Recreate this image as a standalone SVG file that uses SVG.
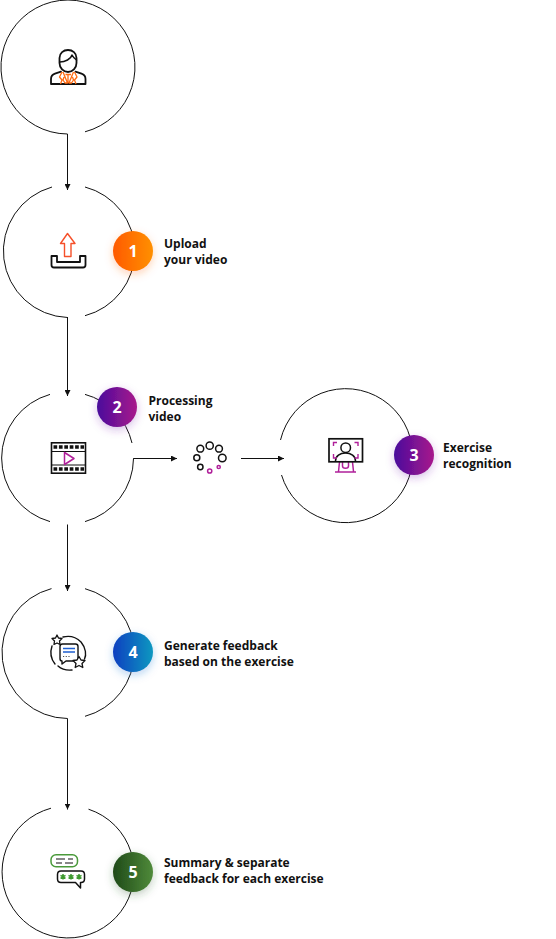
<svg xmlns="http://www.w3.org/2000/svg" width="556" height="939" viewBox="0 0 556 939">
<defs>
<linearGradient id="g1"><stop offset="0" stop-color="#ff5a00"/><stop offset="1" stop-color="#ff9000"/></linearGradient>
<linearGradient id="g2"><stop offset="0" stop-color="#4a0a9c"/><stop offset="1" stop-color="#a81a8c"/></linearGradient>
<linearGradient id="g4"><stop offset="0" stop-color="#0a3fc0"/><stop offset="1" stop-color="#0a98c0"/></linearGradient>
<linearGradient id="g5"><stop offset="0" stop-color="#1f4a18"/><stop offset="1" stop-color="#4f8a3a"/></linearGradient>
<filter id="sh1" x="-40%" y="-40%" width="180%" height="180%"><feDropShadow dx="0" dy="3" stdDeviation="4" flood-color="#ff6a20" flood-opacity=".3"/></filter>
<filter id="sh2" x="-40%" y="-40%" width="180%" height="180%"><feDropShadow dx="0" dy="3" stdDeviation="4" flood-color="#7a30b0" flood-opacity=".3"/></filter>
<filter id="sh4" x="-40%" y="-40%" width="180%" height="180%"><feDropShadow dx="0" dy="3" stdDeviation="4" flood-color="#2070d0" flood-opacity=".3"/></filter>
<filter id="sh5" x="-40%" y="-40%" width="180%" height="180%"><feDropShadow dx="0" dy="3" stdDeviation="4" flood-color="#305a28" flood-opacity=".3"/></filter>
<marker id="ah" markerWidth="7" markerHeight="6" refX="6" refY="3" orient="auto" markerUnits="userSpaceOnUse"><path d="M0 0L6 3L0 6z" fill="#111"/></marker>
</defs>
<style>
.ring{fill:none;stroke:#111;stroke-width:1}
.con{fill:none;stroke:#111;stroke-width:1;marker-end:url(#ah)}
.k{fill:none;stroke:#111;stroke-width:1.800;stroke-linejoin:round;stroke-linecap:round}
.num{font:700 16px "Open Sans","Noto Sans",sans-serif;fill:#fff;text-anchor:middle}
.lab{font:700 12px "Open Sans","Noto Sans",sans-serif;fill:#111}
</style>
<rect width="556" height="939" fill="#fff"/>
<g id="connectors">
<path class="con" d="M67.500 134V190"/>
<path class="con" d="M67.500 317V396"/>
<path class="con" d="M133.500 459V458.500H177"/>
<path class="con" d="M241 458.500H284"/>
<path class="con" d="M67.500 524.500V591"/>
<path class="con" d="M67.500 718.500V809.500"/>
</g>
<g id="node-user">
<path class="ring" d="M85 131.800A67 67 0 1 0 67.500 134"/>
<path class="k" d="M59.500 58c0-5 4-8 8.500-8s8.500 3 8.500 8v5c0 5-4 9-8.500 9s-8.500-4-8.500-9z"/>
<path class="k" d="M60 62c5 0 11-3 12-7c1 2 3 4 4.500 5" style="stroke-width:1.500"/>
<path class="k" d="M51 84v-5c0-3 1.500-4.500 4-5.300l6-2M85.500 84v-5c0-3-1.500-4.500-4-5.300l-6-2M51 84H85.500"/>
<path d="M62 72l-2.500 5 2.500 3-1.500 4M63 72l4.500 11-2.500 0-2-3 1-3M74.500 72l2.500 5-2.500 3 1.500 4M73.500 72l-4.500 11 2.500 0 2-3-1-3M65.500 74.500h5.500M68 75v8" fill="none" stroke="#ff6a10" stroke-width="1.300" stroke-linejoin="round"/>
</g>
<g id="node-upload">
<path class="ring" d="M85 187A66.500 66.500 0 0 1 85 315.700M67.500 317.500A66.500 66.500 0 0 1 52 187"/>
<path d="M64.500 256.500V243.500H60.500L67.500 233.500 75 243.500H71V256.500z" fill="none" stroke="#f5502a" stroke-width="1.400" stroke-linejoin="round"/>
<path class="k" d="M51.500 256V265c0 1.500 1 2.500 2.500 2.500H83c1.500 0 2.500-1 2.500-2.500V256H80V262H57V256z"/>
<circle cx="133" cy="251" r="20" fill="url(#g1)" filter="url(#sh1)"/>
<text class="num" x="133" y="257">1</text>
<text class="lab" x="164" y="248">Upload</text>
<text class="lab" x="164" y="264">your video</text>
</g>
<g id="node-video">
<path class="ring" d="M85 394.400A66 66 0 0 1 132 443M133.500 458.500A66 66 0 0 1 85 521.600M50 521.600A66 66 0 0 1 50 394.400"/>
<rect x="51.500" y="442.800" width="34" height="30.400" fill="none" stroke="#111" stroke-width="1.600"/>
<path d="M52 451.500H85M52 465H85" stroke="#111" stroke-width="1.200"/>
<path d="M53.500 447H84M53.500 469H84" stroke="#111" stroke-width="3.500" stroke-dasharray="3.700 1.700"/>
<path d="M64.500 452.500V464.500L74 458.500z" fill="none" stroke="#b0209a" stroke-width="1.500" stroke-linejoin="round"/>
<circle cx="117" cy="407" r="20" fill="url(#g2)" filter="url(#sh2)"/>
<text class="num" x="117" y="413">2</text>
<text class="lab" x="148.500" y="405">Processing</text>
<text class="lab" x="148.500" y="421">video</text>
</g>
<g id="node-loader" fill="none" stroke="#111" stroke-width="1.500">
<circle cx="196.800" cy="457.700" r="3"/>
<circle cx="200.300" cy="448.700" r="3.400"/>
<circle cx="209.700" cy="445.700" r="3.600"/>
<circle cx="219" cy="448.700" r="3.400"/>
<circle cx="222.300" cy="458" r="3.800"/>
<circle cx="200.300" cy="467" r="2.700"/>
<circle cx="209.700" cy="471" r="2.100" stroke="#b0209a"/>
<circle cx="218.700" cy="467" r="1.600" stroke="#b0209a"/>
</g>
<g id="node-recognition">
<path class="ring" d="M280.500 440A67 67 0 1 1 281.500 475"/>
<path d="M339.500 462l-1 9.500M352.500 462l1 9.500M335 472H356M342.500 462v4c0 3 6 3 6 0v-4" fill="none" stroke="#b0209a" stroke-width="1.500"/>
<rect x="329" y="438.800" width="33.500" height="23" fill="#fff" stroke="#111" stroke-width="1.700"/>
<circle cx="345.700" cy="447.700" r="4.800" class="k" style="stroke-width:1.500"/>
<path class="k" d="M335.500 461c0-5 4.500-8 10-8s10 3 10 8" style="stroke-width:1.500"/>
<path d="M333.500 446v-3.500h3.500M358 446v-3.500h-3.500M333.500 454v4h3.500M358 454v4h-3.500" fill="none" stroke="#b0209a" stroke-width="1.400"/>
<circle cx="414" cy="455" r="20" fill="url(#g2)" filter="url(#sh2)"/>
<text class="num" x="414" y="461">3</text>
<text class="lab" x="443" y="452">Exercise</text>
<text class="lab" x="443" y="468">recognition</text>
</g>
<g id="node-feedback">
<path class="ring" d="M85 588.700A66 66 0 0 1 85 716.300M67.500 718.500A66 66 0 0 1 51.500 588.600"/>
<path class="k" style="stroke-width:1.400" d="M63 637C69 635.500 76 637 81 642C86 648 86.500 655 84.500 659M52 646C50 652 51 659 55 664M58 666C62 669.500 67 670.500 72 670"/>
<path class="k" style="stroke-width:1.400" d="M60 646.500C60 645 61 644 62.500 644H75.500C77 644 78 645 78 646.500V658.500C78 660 77 661 75.500 661H66L62 664V661C61 661 60 660 60 658.500z"/>
<path d="M63 648.500H75M63 652H75" stroke="#1f5fd0" stroke-width="1.300"/>
<path d="M63 656.500H71" stroke="#555" stroke-width="1.200" stroke-dasharray="1.200 1.500"/>
<path d="M57 635l1.500 3 3.500.5-2.500 2.500.5 3.500-3-1.500-3 1.500.5-3.500-2.500-2.500 3.500-.5zM79 656.500l2 3.500 4 .5-3 3 .8 4-3.800-2-3.800 2 .8-4-3-3 4-.5z" fill="#fff" stroke="#111" stroke-width="1.300" stroke-linejoin="round"/>
<circle cx="133" cy="652" r="20" fill="url(#g4)" filter="url(#sh4)"/>
<text class="num" x="133" y="658">4</text>
<text class="lab" x="164" y="650">Generate feedback</text>
<text class="lab" x="164" y="666">based on the exercise</text>
</g>
<g id="node-summary">
<path class="ring" d="M88.500 809.200A66 66 0 1 1 51 808.200"/>
<rect x="51" y="854.800" width="26.500" height="12" rx="5" fill="none" stroke="#4a9a3a" stroke-width="1.500"/>
<path d="M56 859H65M68 859H73M56 863H62M65 863H73" stroke="#111" stroke-width="1.200"/>
<path class="k" d="M61 871H81c2 0 3.500 1.500 3.500 3.500v4.500c0 2-1.500 3.500-3.500 3.500H80.500V888L75.500 882.500H61c-2 0-3.500-1.500-3.500-3.500V874.500c0-2 1.500-3.500 3.500-3.500z" style="stroke-width:1.500"/>
<path d="M63 874v5.500M60.500 875.300l5 3M60.500 878.300l5-3M71 874v5.500M68.500 875.300l5 3M68.500 878.300l5-3M79 874v5.500M76.500 875.300l5 3M76.500 878.300l5-3" stroke="#3f9a30" stroke-width="1.500" fill="none"/>
<circle cx="133" cy="872" r="20" fill="url(#g5)" filter="url(#sh5)"/>
<text class="num" x="133" y="878">5</text>
<text class="lab" x="164" y="867">Summary &amp; separate</text>
<text class="lab" x="164" y="883">feedback for each exercise</text>
</g>
</svg>
